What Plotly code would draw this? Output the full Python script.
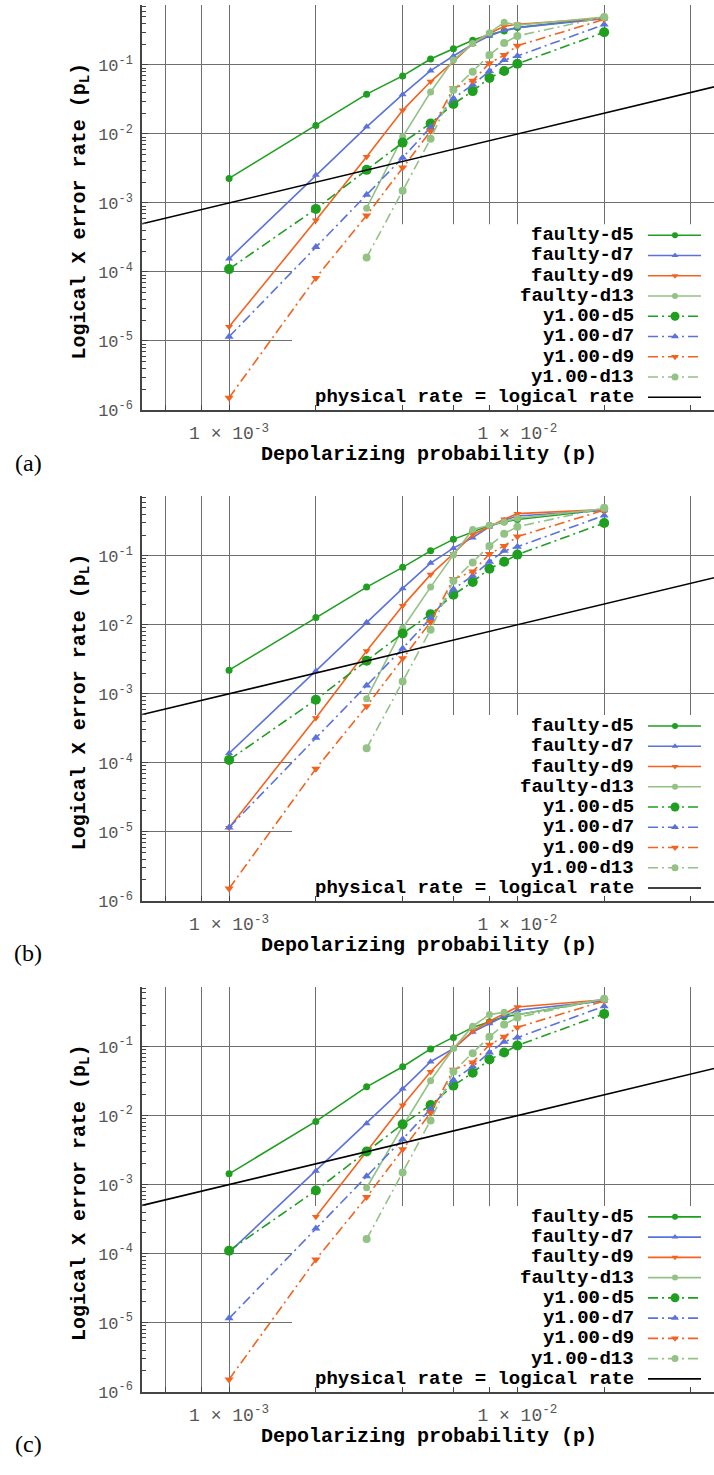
import plotly.graph_objects as go

# ---------------- data ----------------
p = [0.001, 0.002, 0.003, 0.004, 0.005, 0.006, 0.007, 0.008, 0.009, 0.01, 0.02]

# panel (a)
faulty_d5_a = [2.27e-3, 1.33e-2, 3.78e-2, 6.95e-2, 0.122, 0.172, 0.229, 0.276, 0.312, 0.348, 0.485]
faulty_d7_a = [1.55e-4, 2.55e-3, 1.27e-2, 3.74e-2, 8.28e-2, 0.135, 0.200, 0.264, 0.319, 0.348, 0.469]
faulty_d9_a = [1.6e-5, 5.6e-4, 4.69e-3, 2.2e-2, 5.75e-2, 0.112, 0.205, 0.286, 0.364, 0.389, 0.475]
faulty_d13_a = [None, None, 8.4e-4, 9.1e-3, 4.05e-2, 0.118, 0.205, 0.292, 0.416, 0.377, 0.495]

# panel (b)
faulty_d5_b = [2.2e-3, 1.27e-2, 3.52e-2, 6.8e-2, 0.118, 0.173, 0.223, 0.275, 0.310, 0.335, 0.466]
faulty_d7_b = [1.37e-4, 2.13e-3, 1.086e-2, 3.37e-2, 7.85e-2, 0.129, 0.183, 0.263, 0.328, 0.378, 0.455]
faulty_d9_b = [1.14e-5, 4.47e-4, 4.18e-3, 1.88e-2, 5.34e-2, 0.107, 0.204, 0.263, 0.339, 0.408, 0.47]
faulty_d13_b = [None, None, 8.5e-4, 8.9e-3, 3.52e-2, 0.103, 0.241, 0.278, 0.31, 0.35, 0.48]

# panel (c)
faulty_d5_c = [1.43e-3, 8.24e-3, 2.61e-2, 5.11e-2, 9.26e-2, 0.136, 0.19, 0.23, 0.27, 0.29, 0.478]
faulty_d7_c = [1.04e-4, 1.57e-3, 7.67e-3, 2.44e-2, 6.03e-2, 0.0936, 0.163, 0.216, 0.275, 0.336, 0.46]
faulty_d9_c = [None, 3.43e-4, 3.0e-3, 1.41e-2, 4.32e-2, 0.0936, 0.168, 0.233, 0.30, 0.375, 0.478]
faulty_d13_c = [None, None, 9.0e-4, 7.0e-3, 3.2e-2, 0.0936, 0.198, 0.291, 0.315, 0.29, 0.49]

# y1.00 series (same in all panels)
y100_d5 = [1.1e-4, 8.2e-4, 3.02e-3, 7.5e-3, 1.42e-2, 2.72e-2, 4.18e-2, 6.5e-2, 8.2e-2, 0.104, 0.298]
y100_d7 = [1.15e-5, 2.3e-4, 1.32e-3, 4.54e-3, 1.25e-2, 3.28e-2, 5.15e-2, 8.2e-2, 0.118, 0.135, 0.385]
y100_d9 = [1.5e-6, 8.2e-5, 6.6e-4, 3.26e-3, 1.1e-2, 4.6e-2, 5.9e-2, 0.106, 0.139, 0.19, 0.459]
y100_d13 = [None, None, 1.62e-4, 1.5e-3, 8.5e-3, 4.36e-2, 8.0e-2, 0.139, 0.209, 0.264, 0.495]

ref_line_p = [5e-4, 5e-2]

series_names = ["faulty-d5", "faulty-d7", "faulty-d9", "faulty-d13",
                "y1.00-d5", "y1.00-d7", "y1.00-d9", "y1.00-d13"]
ref_name = "physical rate = logical rate"

x_major_vals = [1e-3, 1e-2]
x_major_text = ["1 × 10<sup>-3</sup>", "1 × 10<sup>-2</sup>"]
x_minor_vals = [6e-4, 8e-4, 2e-3, 4e-3, 6e-3, 8e-3, 2e-2, 4e-2]
y_tickvals = [1e-6, 1e-5, 1e-4, 1e-3, 1e-2, 1e-1]
y_ticktext = ["10<sup>-6</sup>", "10<sup>-5</sup>", "10<sup>-4</sup>", "10<sup>-3</sup>",
              "10<sup>-2</sup>", "10<sup>-1</sup>"]
panel_labels = ["(a)", "(b)", "(c)"]

panels = [
    [faulty_d5_a, faulty_d7_a, faulty_d9_a, faulty_d13_a],
    [faulty_d5_b, faulty_d7_b, faulty_d9_b, faulty_d13_b],
    [faulty_d5_c, faulty_d7_c, faulty_d9_c, faulty_d13_c],
]
y100 = [y100_d5, y100_d7, y100_d9, y100_d13]

# ---------------- style ----------------
W, H = 714, 1475
X_LEFT = 142
PANEL_TOP = [5, 499.5, 994]
PANEL_H = 408
XR = [-3.302, -1.318]
YR = [-6.0, -0.13]
GREEN = "#1f9f1f"
BLUE = "#5b72dc"
ORANGE = "#f4621e"
LGREEN = "#93c285"
colors = [GREEN, BLUE, ORANGE, LGREEN]
symbols_f = ["circle", "triangle-up", "triangle-down", "circle"]
sizes_f = [7, 7, 7, 7]
sizes_y = [10, 8, 8, 8]
DASHDOT = "10px,4px,2px,4px"
MONO = "Liberation Mono"
SERIF = "Liberation Serif"
GRID = "#6e6e6e"
AXIS = "#444444"
TICKC = "#555555"

fig = go.Figure()


def pxy(ypx):
    return 1 - ypx / H


def xdata(xpx):
    f = (xpx - X_LEFT) / (W - X_LEFT)
    return 10 ** (XR[0] + f * (XR[1] - XR[0]))


def ydata(ypx, top):
    f = (top + PANEL_H - ypx) / PANEL_H
    return 10 ** (YR[0] + f * (YR[1] - YR[0]))


minor_y = [m * 10.0 ** e for e in range(-6, 0) for m in range(2, 10)]

layout = dict(
    width=W, height=H, margin=dict(l=0, r=0, t=0, b=0),
    paper_bgcolor="white", plot_bgcolor="white", showlegend=False,
)

annotations = []

for i in range(3):
    sx = "" if i == 0 else str(i + 1)
    ax_x = "x" + sx
    ax_y = "y" + sx
    top = PANEL_TOP[i]
    bot = top + PANEL_H
    ydom = [pxy(bot), pxy(top)]
    layout["xaxis" + sx] = dict(
        type="log", range=XR, domain=[X_LEFT / W, 1],
        anchor=ax_y, tickvals=x_major_vals, ticktext=x_major_text,
        showgrid=True, gridcolor=GRID, gridwidth=1,
        showline=True, linecolor=AXIS, linewidth=1.5,
        ticks="inside", ticklen=5, tickcolor=AXIS, tickwidth=1,
        tickfont=dict(family=MONO, size=18, color=TICKC),
        ticklabelstandoff=6, zeroline=False,
        minor=dict(tickvals=x_minor_vals, ticks="inside", ticklen=5, tickcolor=AXIS,
                   showgrid=True, gridcolor=GRID, gridwidth=1),
    )
    layout["yaxis" + sx] = dict(
        type="log", range=YR, domain=ydom, anchor=ax_x,
        tickvals=y_tickvals, ticktext=y_ticktext,
        showgrid=True, gridcolor=GRID, gridwidth=1,
        showline=True, linecolor=AXIS, linewidth=1.5,
        ticks="inside", ticklen=6, tickcolor=AXIS, tickwidth=1,
        tickfont=dict(family=MONO, size=17, color=TICKC),
        ticklabelstandoff=4, zeroline=False,
        minor=dict(tickvals=minor_y, ticks="inside", ticklen=4,
                   tickcolor=AXIS, showgrid=False),
    )

    # legend background: white box above grid, below data
    bx0, bx1 = xdata(292), 10 ** XR[1]
    by0, by1 = 10 ** YR[0], ydata(top + 221, top)
    fig.add_trace(go.Scatter(
        x=[bx0, bx1, bx1, bx0, bx0], y=[by0, by0, by1, by1, by0],
        name="legend box", mode="lines", fill="toself", fillcolor="white",
        line=dict(width=0), xaxis=ax_x, yaxis=ax_y, hoverinfo="skip",
    ))

    # data traces
    for k in range(4):
        fig.add_trace(go.Scatter(
            x=p, y=panels[i][k], mode="lines+markers", name=series_names[k],
            xaxis=ax_x, yaxis=ax_y, connectgaps=False,
            line=dict(color=colors[k], width=1.6),
            marker=dict(symbol=symbols_f[k], size=sizes_f[k], color=colors[k]),
        ))
    for k in range(4):
        fig.add_trace(go.Scatter(
            x=p, y=y100[k], mode="lines+markers", name=series_names[4 + k],
            xaxis=ax_x, yaxis=ax_y,
            line=dict(color=colors[k], width=1.6, dash=DASHDOT),
            marker=dict(symbol=symbols_f[k], size=sizes_y[k], color=colors[k]),
        ))
    fig.add_trace(go.Scatter(
        x=ref_line_p, y=ref_line_p, mode="lines", name=ref_name,
        xaxis=ax_x, yaxis=ax_y, line=dict(color="black", width=1.6),
    ))

    # manual legend (text to the left of the key)
    names = series_names + [ref_name]
    xa, xb, xm = xdata(648), xdata(701), xdata(675)
    for r, nm in enumerate(names):
        ypx = top + 232 + r * 20.4
        yv = ydata(ypx, top)
        annotations.append(dict(
            text="<b>" + nm + "</b>", xref=ax_x + " domain", yref=ax_y + " domain",
            x=(636 - X_LEFT) / (W - X_LEFT), y=(bot - ypx) / PANEL_H,
            xanchor="right", yanchor="middle",
            showarrow=False, font=dict(family=MONO, size=19, color="black"),
        ))
        if r < 8:
            k = r % 4
            dash = "solid" if r < 4 else DASHDOT
            fig.add_trace(go.Scatter(
                x=[xa, xb], y=[yv, yv], mode="lines", name=nm + " key",
                xaxis=ax_x, yaxis=ax_y,
                line=dict(color=colors[k], width=1.6, dash=dash), hoverinfo="skip"))
            fig.add_trace(go.Scatter(
                x=[xm], y=[yv], mode="markers", name=nm + " key marker",
                xaxis=ax_x, yaxis=ax_y,
                marker=dict(symbol=symbols_f[k],
                            size=(sizes_f[k] - 1) if r < 4 else (sizes_y[k] - 1),
                            color=colors[k]), hoverinfo="skip"))
        else:
            fig.add_trace(go.Scatter(
                x=[xa, xb], y=[yv, yv], mode="lines", name=nm + " key",
                xaxis=ax_x, yaxis=ax_y,
                line=dict(color="black", width=1.6), hoverinfo="skip"))

    # axis titles and panel label
    annotations.append(dict(
        text="<b>Logical X error rate (p<sub>L</sub>)</b>", textangle=-90,
        xref="paper", yref="paper", x=80 / W, y=pxy(top + 208),
        xanchor="center", yanchor="middle", showarrow=False,
        font=dict(family=MONO, size=20, color="black"),
    ))
    annotations.append(dict(
        text="<b>Depolarizing probability (p)</b>",
        xref="paper", yref="paper", x=429 / W, y=pxy(top + 453),
        xanchor="center", yanchor="middle", showarrow=False,
        font=dict(family=MONO, size=20, color="black"),
    ))
    annotations.append(dict(
        text=panel_labels[i], xref="paper", yref="paper", x=28 / W, y=pxy(top + 461),
        xanchor="center", yanchor="middle", showarrow=False,
        font=dict(family=SERIF, size=24, color="black"),
    ))

layout["annotations"] = annotations
fig.update_layout(**layout)
fig.write_html("out.html", config={"displayModeBar": False},
               post_script="document.body.style.margin='0px';")
